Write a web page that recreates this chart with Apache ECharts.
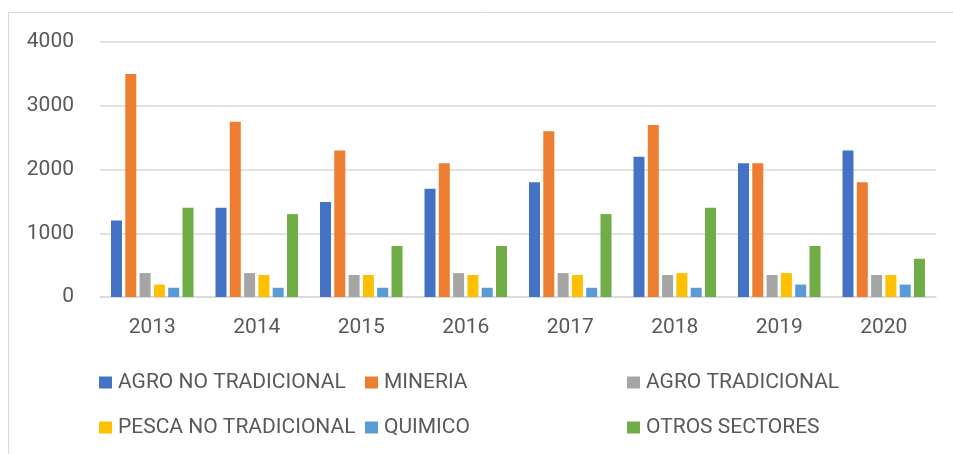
<!DOCTYPE html>
<html>
<head>
    <meta charset="utf-8">
    <title>Exportaciones por sector</title>
    <script src="https://cdn.jsdelivr.net/npm/echarts@6/dist/echarts.min.js"></script>
    <style>
        html, body { margin: 0; padding: 0; background: #fff; }
        #chart { width: 953px; height: 454px; }
    </style>
</head>
<body>
<div id="chart"></div>
<script>
    // datos
    var years = ['2013', '2014', '2015', '2016', '2017', '2018', '2019', '2020'];
    var agroNoTradicional = [1200, 1400, 1490, 1700, 1800, 2200, 2100, 2300];
    var mineria = [3500, 2750, 2300, 2100, 2600, 2700, 2100, 1800];
    var agroTradicional = [375, 375, 345, 375, 375, 345, 345, 345];
    var pescaNoTradicional = [195, 345, 345, 345, 345, 375, 375, 345];
    var quimico = [145, 145, 145, 145, 145, 145, 195, 195];
    var otrosSectores = [1400, 1300, 800, 800, 1300, 1400, 800, 600];
    var yTicks = [0, 1000, 2000, 3000, 4000];

    var names = ['AGRO NO TRADICIONAL', 'MINERIA', 'AGRO TRADICIONAL',
        'PESCA NO TRADICIONAL', 'QUIMICO', 'OTROS SECTORES'];
    var values = [agroNoTradicional, mineria, agroTradicional, pescaNoTradicional, quimico, otrosSectores];
    var colors = ['#4472C4', '#ED7D31', '#A5A5A5', '#FFC000', '#5B9BD5', '#70AD47'];

    // posiciones de la leyenda (2 filas x 3 columnas)
    var legendPos = [[99, 372], [365, 372], [627, 372], [99, 417], [365, 417], [627, 417]];

    var textColor = '#595959';
    var fontFam = 'Roboto';

    var chart = echarts.init(document.getElementById('chart'));
    chart.setOption({
        animation: false,
        color: colors,
        graphic: [{
            type: 'rect',
            shape: { x: 8.5, y: 12.5, width: 1000, height: 1000 },
            style: { fill: 'none', stroke: '#d9d9d9', lineWidth: 1 }
        }],
        legend: names.map(function (n, i) {
            return {
                data: [n],
                left: legendPos[i][0],
                top: legendPos[i][1],
                padding: 0,
                itemWidth: 13,
                itemHeight: 12,
                itemGap: 0,
                icon: 'rect',
                textStyle: { color: textColor, fontSize: 21, fontFamily: fontFam, padding: [0, 0, 0, 1] }
            };
        }),
        grid: {
            left: 100,
            right: 17,
            top: 42,
            bottom: 157,
            containLabel: false
        },
        xAxis: {
            type: 'category',
            data: years,
            axisLine: { lineStyle: { color: '#d9d9d9', width: 1.5 } },
            axisTick: { show: false },
            axisLabel: { color: textColor, fontSize: 21, fontFamily: fontFam, margin: 20 }
        },
        yAxis: {
            type: 'value',
            min: yTicks[0],
            max: yTicks[yTicks.length - 1],
            interval: 1000,
            axisLine: { show: false },
            axisTick: { show: false },
            splitLine: { lineStyle: { color: '#d9d9d9', width: 1.5 } },
            axisLabel: {
                color: textColor, fontSize: 21, fontFamily: fontFam, margin: 26,
                formatter: function (v) { return String(v); }
            }
        },
        series: names.map(function (n, i) {
            return {
                name: n,
                type: 'bar',
                data: values[i],
                barWidth: 11,
                barGap: '30%'
            };
        })
    });
</script>
</body>
</html>
